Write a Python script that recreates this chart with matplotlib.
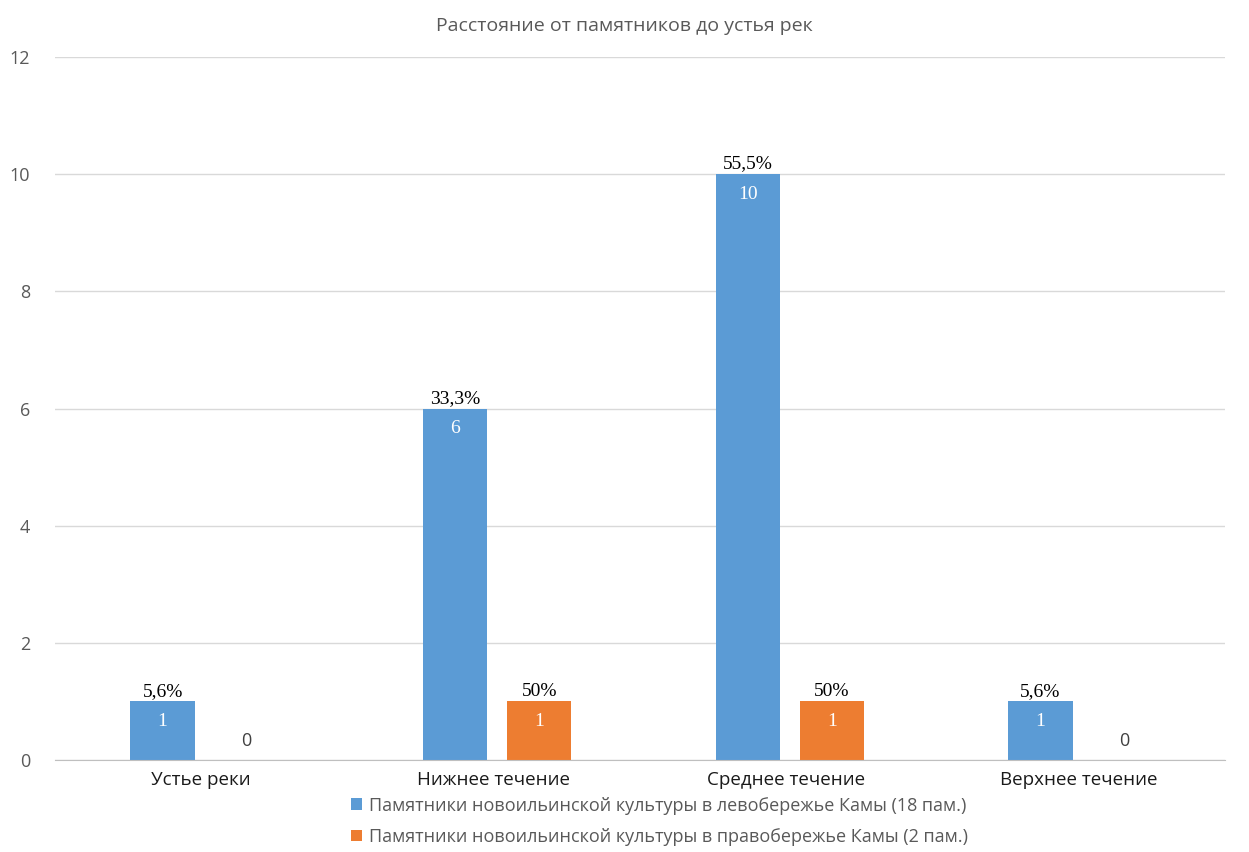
import numpy as np
import matplotlib.pyplot as plt

# данные
categories = ['Устье реки', 'Нижнее течение', 'Среднее течение', 'Верхнее течение']
left_bank = [1, 6, 10, 1]
right_bank = [0, 1, 1, 0]
left_pct = ['5,6%', '33,3%', '55,5%', '5,6%']
right_pct = ['', '50%', '50%', '']
series_names = ['Памятники новоильинской культуры в левобережье Камы (18 пам.)',
                'Памятники новоильинской культуры в правобережье Камы (2 пам.)']
title = 'Расстояние от памятников до устья рек'

blue = '#5B9BD5'
orange = '#ED7D31'
gray = '#595959'
sans = ['Open Sans', 'DejaVu Sans']
serif = ['Liberation Serif', 'DejaVu Serif']

fig = plt.figure(figsize=(12.49, 8.52), dpi=100)
ax = fig.add_axes([0.044, 0.108, 0.937, 0.825])

x = np.arange(len(categories))
w = 0.22
off_l = -0.132
off_r = 0.155
b1 = ax.bar(x + off_l, left_bank, w, color=blue, label=series_names[0], zorder=3)
b2 = ax.bar(x + off_r, right_bank, w, color=orange, label=series_names[1], zorder=3)

# подписи
for i in range(len(categories)):
    v = left_bank[i]
    ax.text(x[i] + off_l, v - 0.34, str(v), ha='center', va='center', color='white',
            fontsize=14, family=serif, zorder=4)
    ax.text(x[i] + off_l, v + 0.03, left_pct[i], ha='center', va='bottom', color='black',
            fontsize=14, family=serif, zorder=4)
    v = right_bank[i]
    if v > 0:
        ax.text(x[i] + off_r, v - 0.34, str(v), ha='center', va='center', color='white',
                fontsize=14, family=serif, zorder=4)
        ax.text(x[i] + off_r, v + 0.03, right_pct[i], ha='center', va='bottom', color='black',
                fontsize=14, family=serif, zorder=4)
    else:
        ax.text(x[i] + off_r, 0.33, '0', ha='center', va='center', color='#404040',
                fontsize=13, family=sans, zorder=4)

ax.set_xlim(-0.5, 3.5)
ax.set_ylim(0, 12)
ax.set_yticks(np.arange(0, 13, 2))
ax.set_xticks(x)
ax.set_xticklabels(categories, fontsize=13.5, color='#1a1a1a', family=sans)
for lab in ax.get_yticklabels():
    lab.set_fontsize(13)
    lab.set_color(gray)
    lab.set_family(sans)
ax.tick_params(axis='both', length=0, pad=8)
ax.tick_params(axis='y', pad=18)
ax.grid(axis='y', color='#D9D9D9', linewidth=1, zorder=0)
for s in ['top', 'right', 'left']:
    ax.spines[s].set_visible(False)
ax.spines['bottom'].set_color('#BFBFBF')
ax.spines['bottom'].set_zorder(5)

fig.text(0.5, 0.970, title, ha='center', va='center', fontsize=14, color=gray, family=sans)

leg = fig.legend(handles=[b1, b2], loc='center', bbox_to_anchor=(0.528, 0.036), ncol=1,
                 frameon=False, handlelength=0.6, handleheight=0.6,
                 handletextpad=0.4, labelspacing=0.75, prop={'family': sans, 'size': 13})
for t in leg.get_texts():
    t.set_color(gray)

fig.savefig('out.png', dpi=100)
